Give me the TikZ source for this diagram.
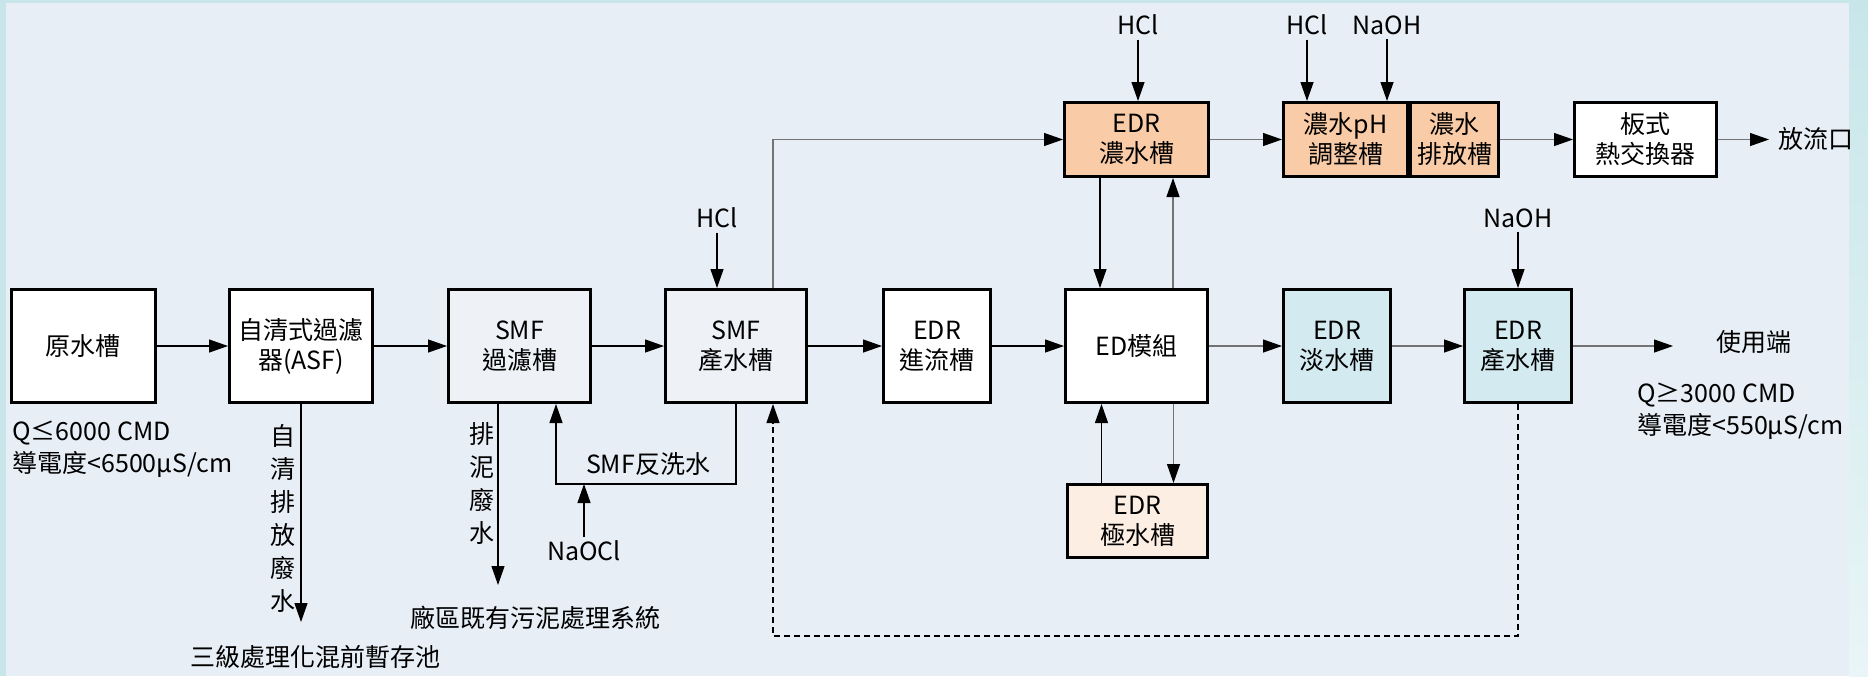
\documentclass[tikz,border=0pt]{standalone}
\usepackage{fontspec}
\setmainfont{Noto Sans CJK TC}
\usetikzlibrary{arrows.meta,positioning}
\definecolor{framecyan}{HTML}{C8E6EA}
\definecolor{panelbg}{HTML}{E8EEF6}
\definecolor{smffill}{HTML}{EEF2F7}
\definecolor{concfill}{HTML}{F9CBA6}
\definecolor{polarfill}{HTML}{FDEEE3}
\definecolor{freshfill}{HTML}{D2EAF0}

\begin{document}
\begin{tikzpicture}[x=0.5pt,y=-0.5pt,
    font=\fontsize{12.5}{15}\selectfont,
    tank/.style={draw=black,line width=1.5pt,fill=white,inner sep=0pt,align=center},
    boxsize/.style 2 args={minimum width=#1*0.5pt-1.5pt,minimum height=#2*0.5pt-1.5pt},
    flow/.style={-{Triangle[length=9.5pt,width=6.5pt,black]},line width=0.6pt,draw=black},
    flowg/.style={flow,draw=black!55},
    recycle/.style={flow,dashed,dash pattern=on 3pt off 2pt},
    chem/.style={inner sep=2pt},
    vtext/.style={align=center,font=\fontsize{12.5}{16.5}\selectfont},
    note/.style={align=left,anchor=west,inner sep=0pt,font=\fontsize{12.5}{16}\selectfont}]
    \useasboundingbox (0,0) rectangle (1868,676);
    \fill[framecyan] (0,0) rectangle (1868,676);
    \shade[top color=framecyan,bottom color=framecyan!40!white] (1849,0) rectangle (1868,676);
    \fill[panelbg] (6,3) rectangle (1849,676);

    \node[tank,boxsize={147}{116}] (raw) at (83.5,346) {原水槽};
    \node[tank,boxsize={146}{116}] (asf) at (301,346) {自清式過濾\\器(ASF)};
    \node[tank,fill=smffill,boxsize={145}{116}] (smff) at (519.5,346) {SMF\\過濾槽};
    \node[tank,fill=smffill,boxsize={144}{116}] (smfp) at (736,346) {SMF\\產水槽};
    \node[tank,boxsize={110}{116}] (edrin) at (937,346) {EDR\\進流槽};
    \node[tank,boxsize={145}{116}] (ed) at (1136.5,346) {ED模組};
    \node[tank,fill=freshfill,boxsize={110}{116}] (fresh) at (1337,346) {EDR\\淡水槽};
    \node[tank,fill=freshfill,boxsize={110}{116}] (prod) at (1518,346) {EDR\\產水槽};

    \node[tank,fill=concfill,boxsize={147}{77}] (conc) at (1136.5,139.5) {EDR\\濃水槽};
    \node[tank,fill=concfill,boxsize={127}{77}] (ph) at (1345.5,139.5) {濃水pH\\調整槽};
    \node[tank,fill=concfill,boxsize={91}{77}] (dis) at (1454.5,139.5) {濃水\\排放槽};
    \node[tank,boxsize={145}{77}] (plate) at (1645.5,139.5) {板式\\熱交換器};
    \node[tank,fill=polarfill,boxsize={143}{76}] (polar) at (1137.5,521) {EDR\\極水槽};

    \node[chem] (hclconc) at (1138,25) {HCl};
    \node[chem] (hclph) at (1307,25) {HCl};
    \node[chem] (naohph) at (1387,25) {NaOH};
    \node[chem] (hclsmf) at (717,218) {HCl};
    \node[chem] (naohprod) at (1518,218) {NaOH};
    \node[chem] (naocl) at (584,551) {NaOCl};

    \node (use) at (1754,342) {使用端};
    \node (outlet) at (1816,139) {放流口};
    \node (tertiary) at (315,657) {三級處理化混前暫存池};
    \node (sludge) at (535,618) {廠區既有污泥處理系統};
    \node (bwtxt) at (648,464) {SMF反洗水};
    \node[vtext] (asftxt) at (283,518) {自\\清\\排\\放\\廢\\水};
    \node[vtext] (smftxt) at (482,483) {排\\泥\\廢\\水};
    \node[note] (rawspec) at (12,449) {Q≤6000 CMD\\導電度<6500μS/cm};
    \node[note] (prodspec) at (1637,411) {Q≥3000 CMD\\導電度<550μS/cm};

    \coordinate (asfout) at (301,622);
    \coordinate (smfout) at (498,585);
    \coordinate (bw) at (584,484);
    \coordinate (loopbot) at (773,636);
    \coordinate (useend) at (1673,346);
    \coordinate (outend) at (1769,139.5);

    \draw[flow] (raw) -- (asf);
    \draw[flow] (asf) -- (smff);
    \draw[flow] (smff) -- (smfp);
    \draw[flow] (smfp) -- (edrin);
    \draw[flow] (edrin) -- (ed);
    \draw[flowg] (ed) -- (fresh);
    \draw[flowg] (fresh) -- (prod);
    \draw[flowg] (prod) -- (useend);

    \draw[flowg] ([xshift=18.5pt]smfp.north) |- (conc.west);
    \draw[flowg] (conc) -- (ph);
    \draw[flowg] (dis) -- (plate);
    \draw[flowg] (plate) -- (outend);
    \draw[flow] ([xshift=-18.25pt]conc.south) -- ([xshift=-18.25pt]ed.north);
    \draw[flowg] ([xshift=18.25pt]ed.north) -- ([xshift=18.25pt]conc.south);
    \draw[flow] ([xshift=-18pt]polar.north) -- ([xshift=-18pt]polar.north |- ed.south);
    \draw[flowg] ([xshift=18pt]polar.north |- ed.south) -- ([xshift=18pt]polar.north);

    \foreach \c/\t in {hclconc/conc,hclph/ph,naohph/ph,hclsmf/smfp,naohprod/prod}
        \draw[flow] (\c) -- (\c |- \t.north);

    \draw[flow] (asf.south) -- (asfout);
    \draw[flow] (smfout |- smff.south) -- (smfout);
    \draw[flow] (smfp.south) |- (bw) -| ([xshift=18.25pt]smff.south);
    \draw[flow] (naocl) -- (bw);
    \draw[recycle] (prod.south) |- (loopbot) -- (loopbot |- smfp.south);
\end{tikzpicture}
\end{document}
